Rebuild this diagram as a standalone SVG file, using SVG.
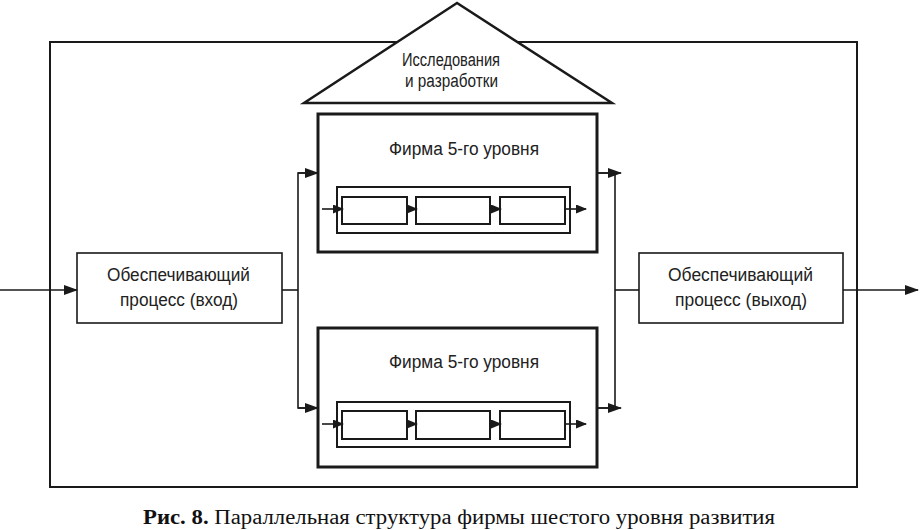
<svg xmlns="http://www.w3.org/2000/svg" width="920" height="530" viewBox="0 0 920 530">
<defs>
<marker id="ah" markerWidth="14" markerHeight="10" refX="13" refY="5" orient="auto" markerUnits="userSpaceOnUse">
<path d="M0,0 L14,5 L0,10 Z" fill="#1a1a1a"/>
</marker>
<marker id="ahs" markerWidth="11" markerHeight="9" refX="10" refY="4.5" orient="auto" markerUnits="userSpaceOnUse">
<path d="M0,0 L11,4.5 L0,9 Z" fill="#1a1a1a"/>
</marker>
</defs>
<style>
.frame{fill:none;stroke:#1a1a1a;stroke-width:2}
.box{fill:#fff;stroke:#1a1a1a;stroke-width:1.6}
.firm{fill:#fff;stroke:#1a1a1a;stroke-width:3}
.inner{fill:none;stroke:#1a1a1a;stroke-width:2}
.cell{fill:#fff;stroke:#1a1a1a;stroke-width:2}
.ln{fill:none;stroke:#1a1a1a;stroke-width:1.6}
.lab{font-family:"Liberation Sans",Arial,sans-serif;font-size:18px;fill:#222;text-anchor:middle}
.cap{font-family:"Liberation Serif","Times New Roman",serif;font-size:20px;fill:#111}
</style>
<rect width="920" height="530" fill="#fff"/>
<g id="outer"><rect class="frame" x="50" y="42" width="807" height="445"/></g>
<g id="rnd">
<polygon points="457,3 304,103 612,103" fill="#fff" stroke="#1a1a1a" stroke-width="2.5" stroke-linejoin="miter"/>
<text class="lab" x="451" y="66" textLength="98" lengthAdjust="spacingAndGlyphs">Исследования</text>
<text class="lab" x="451.5" y="87" textLength="93" lengthAdjust="spacingAndGlyphs">и разработки</text>
</g>
<g id="firm1">
<rect class="firm" x="318" y="114" width="279" height="138"/>
<text class="lab" x="464" y="155" textLength="150" lengthAdjust="spacingAndGlyphs">Фирма 5-го уровня</text>
<rect class="inner" x="337" y="187" width="233" height="46"/>
<rect class="cell" x="342" y="197" width="65" height="27"/>
<rect class="cell" x="416" y="197" width="74" height="27"/>
<rect class="cell" x="500" y="197" width="65" height="27"/>
<line class="ln" x1="322" y1="209" x2="343" y2="209" marker-end="url(#ahs)"/>
<line class="ln" x1="407" y1="209" x2="417" y2="209" marker-end="url(#ahs)"/>
<line class="ln" x1="490" y1="209" x2="501" y2="209" marker-end="url(#ahs)"/>
<line class="ln" x1="565" y1="209" x2="586" y2="209" marker-end="url(#ahs)"/>
</g>
<g id="firm2">
<rect class="firm" x="318" y="328" width="279" height="139"/>
<text class="lab" x="464" y="368" textLength="150" lengthAdjust="spacingAndGlyphs">Фирма 5-го уровня</text>
<rect class="inner" x="337" y="402" width="233" height="45"/>
<rect class="cell" x="342" y="411" width="65" height="28"/>
<rect class="cell" x="416" y="411" width="74" height="28"/>
<rect class="cell" x="500" y="411" width="65" height="28"/>
<line class="ln" x1="322" y1="424" x2="343" y2="424" marker-end="url(#ahs)"/>
<line class="ln" x1="407" y1="424" x2="417" y2="424" marker-end="url(#ahs)"/>
<line class="ln" x1="490" y1="424" x2="501" y2="424" marker-end="url(#ahs)"/>
<line class="ln" x1="565" y1="424" x2="586" y2="424" marker-end="url(#ahs)"/>
</g>
<g id="input">
<rect class="box" x="77" y="253" width="205" height="70"/>
<text class="lab" x="178.5" y="281" textLength="143" lengthAdjust="spacingAndGlyphs">Обеспечивающий</text>
<text class="lab" x="179" y="306" textLength="118" lengthAdjust="spacingAndGlyphs">процесс (вход)</text>
</g>
<g id="output">
<rect class="box" x="639" y="253" width="204" height="70"/>
<text class="lab" x="740.5" y="281" textLength="145" lengthAdjust="spacingAndGlyphs">Обеспечивающий</text>
<text class="lab" x="741" y="306" textLength="132" lengthAdjust="spacingAndGlyphs">процесс (выход)</text>
</g>
<g id="connectors">
<line class="ln" x1="0" y1="290" x2="77" y2="290" stroke-width="2" marker-end="url(#ah)"/>
<line class="ln" x1="282" y1="290" x2="298" y2="290"/>
<polyline class="ln" points="316,173 298,173 298,408 316,408"/>
<line class="ln" x1="298" y1="173" x2="318" y2="173" marker-end="url(#ah)"/>
<line class="ln" x1="298" y1="408" x2="318" y2="408" marker-end="url(#ah)"/>
<polyline class="ln" points="597,173 615,173 615,408 597,408"/>
<line class="ln" x1="597" y1="173" x2="621" y2="173" marker-end="url(#ah)"/>
<line class="ln" x1="597" y1="408" x2="621" y2="408" marker-end="url(#ah)"/>
<line class="ln" x1="615" y1="290" x2="639" y2="290"/>
<line class="ln" x1="843" y1="290" x2="918" y2="290" stroke-width="2" marker-end="url(#ah)"/>
</g>
<text class="cap" x="143" y="524" textLength="632" lengthAdjust="spacingAndGlyphs"><tspan font-weight="bold">Рис. 8.</tspan> Параллельная структура фирмы шестого уровня развития</text>
</svg>
